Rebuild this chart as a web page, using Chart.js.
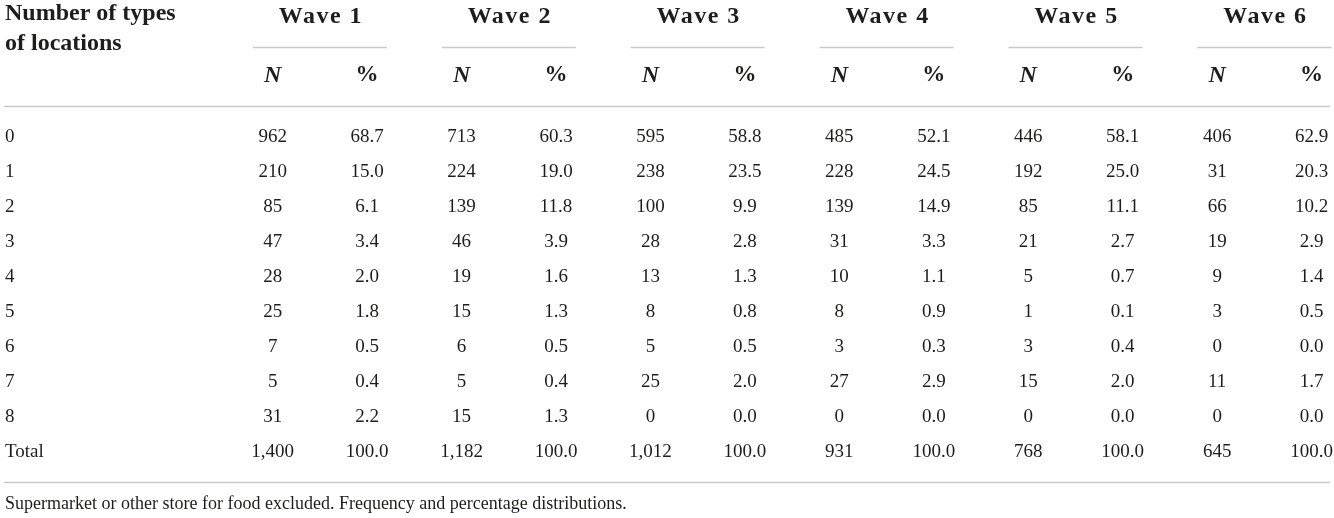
<!DOCTYPE html>
<html>
<head>
<meta charset="utf-8">
<title>Number of types of locations by wave</title>
<script src="https://cdn.jsdelivr.net/npm/chart.js@4.4.1/dist/chart.umd.min.js"></script>
<style>
  html, body { margin: 0; padding: 0; background: #ffffff; }
  #wrap { width: 1334px; height: 518px; }
</style>
</head>
<body>
<div id="wrap"><canvas id="tableChart"></canvas></div>
<script>
// table content
const headerLines = ['Number of types', 'of locations'];
const waveLabels = ['Wave 1', 'Wave 2', 'Wave 3', 'Wave 4', 'Wave 5', 'Wave 6'];
const subLabels = ['N', '%'];
const rowLabels = ['0', '1', '2', '3', '4', '5', '6', '7', '8', 'Total'];

const wave1N   = [962, 210, 85, 47, 28, 25, 7, 5, 31, 1400];
const wave1Pct = [68.7, 15.0, 6.1, 3.4, 2.0, 1.8, 0.5, 0.4, 2.2, 100.0];
const wave2N   = [713, 224, 139, 46, 19, 15, 6, 5, 15, 1182];
const wave2Pct = [60.3, 19.0, 11.8, 3.9, 1.6, 1.3, 0.5, 0.4, 1.3, 100.0];
const wave3N   = [595, 238, 100, 28, 13, 8, 5, 25, 0, 1012];
const wave3Pct = [58.8, 23.5, 9.9, 2.8, 1.3, 0.8, 0.5, 2.0, 0.0, 100.0];
const wave4N   = [485, 228, 139, 31, 10, 8, 3, 27, 0, 931];
const wave4Pct = [52.1, 24.5, 14.9, 3.3, 1.1, 0.9, 0.3, 2.9, 0.0, 100.0];
const wave5N   = [446, 192, 85, 21, 5, 1, 3, 15, 0, 768];
const wave5Pct = [58.1, 25.0, 11.1, 2.7, 0.7, 0.1, 0.4, 2.0, 0.0, 100.0];
const wave6N   = [406, 31, 66, 19, 9, 3, 0, 11, 0, 645];
const wave6Pct = [62.9, 20.3, 10.2, 2.9, 1.4, 0.5, 0.0, 1.7, 0.0, 100.0];

const footnote = 'Supermarket or other store for food excluded. Frequency and percentage distributions.';

const waveN = [wave1N, wave2N, wave3N, wave4N, wave5N, wave6N];
const wavePct = [wave1Pct, wave2Pct, wave3Pct, wave4Pct, wave5Pct, wave6Pct];

// look
const TEXT = '#1d1d1b';
const RULE = '#c9c9c9';
const SERIF = '"Liberation Serif", "DejaVu Serif", serif';
const BODY_FONT = '19px ' + SERIF;
const HEAD_FONT = 'bold 24px ' + SERIF;

// axis ranges: x in column units, y in row units (rows 0..9 = body rows)
const X_MIN = -1.887, X_MAX = 12.237;
const Y_MIN = -3.914, Y_MAX = 10.886;

const fmtN = v => v.toLocaleString('en-US');
const fmtPct = v => v.toFixed(1);

// one dataset per table column
const datasets = [{
  label: 'rows',
  cells: rowLabels,
  align: 'left',
  data: rowLabels.map((_, i) => ({ x: X_MIN, y: i }))
}];
waveN.forEach((vals, w) => {
  datasets.push({
    label: waveLabels[w] + ' N',
    cells: vals.map(fmtN),
    align: 'center',
    data: vals.map((v, i) => ({ x: 2 * w + 1, y: i }))
  });
  datasets.push({
    label: waveLabels[w] + ' %',
    cells: wavePct[w].map(fmtPct),
    align: 'center',
    data: wavePct[w].map((v, i) => ({ x: 2 * w + 2, y: i }))
  });
});

function rule(ctx, x1, x2, y) {
  ctx.beginPath();
  ctx.moveTo(x1, Math.round(y) + 0.5);
  ctx.lineTo(x2, Math.round(y) + 0.5);
  ctx.stroke();
}

const tablePlugin = {
  id: 'tablePlugin',
  beforeDatasetsDraw(chart) {
    const { ctx, chartArea, scales: { x, y } } = chart;
    const left = chartArea.left, right = chartArea.right;
    ctx.save();
    ctx.strokeStyle = RULE;
    ctx.lineWidth = 1.5;
    rule(ctx, left + 4, right - 4, y.getPixelForValue(-0.886));
    rule(ctx, left + 4, right - 4, y.getPixelForValue(9.857));
    waveLabels.forEach((_, w) => {
      rule(ctx, x.getPixelForValue(2 * w + 1.5 - 0.71), x.getPixelForValue(2 * w + 1.5 + 0.71), y.getPixelForValue(-2.557));
    });

    ctx.fillStyle = TEXT;
    ctx.textBaseline = 'middle';
    ctx.font = HEAD_FONT;
    ctx.textAlign = 'left';
    ctx.fillText(headerLines[0], left + 5, y.getPixelForValue(-3.514));
    ctx.fillText(headerLines[1], left + 5, y.getPixelForValue(-2.657));

    ctx.textAlign = 'center';
    ctx.letterSpacing = '1.5px';
    waveLabels.forEach((lab, w) => {
      ctx.fillText(lab, x.getPixelForValue(2 * w + 1.5) + 1, y.getPixelForValue(-3.43));
    });
    ctx.letterSpacing = '0px';

    waveLabels.forEach((_, w) => {
      ctx.font = 'italic bold 24px ' + SERIF;
      ctx.fillText(subLabels[0], x.getPixelForValue(2 * w + 1), y.getPixelForValue(-1.757));
      ctx.font = 'bold 23px ' + SERIF;
      ctx.fillText(subLabels[1], x.getPixelForValue(2 * w + 2), y.getPixelForValue(-1.757));
    });

    ctx.font = '18px ' + SERIF;
    ctx.textAlign = 'left';
    ctx.fillText(footnote, left + 5, y.getPixelForValue(10.486));
    ctx.restore();
  },
  afterDatasetsDraw(chart) {
    const ctx = chart.ctx;
    ctx.save();
    ctx.font = BODY_FONT;
    ctx.fillStyle = TEXT;
    ctx.textBaseline = 'middle';
    chart.data.datasets.forEach((ds, di) => {
      const meta = chart.getDatasetMeta(di);
      ctx.textAlign = ds.align;
      meta.data.forEach((pt, i) => {
        const dx = ds.align === 'left' ? 5 : 0;
        ctx.fillText(ds.cells[i], pt.x + dx, pt.y);
      });
    });
    ctx.restore();
  }
};

new Chart(document.getElementById('tableChart'), {
  type: 'scatter',
  data: { datasets: datasets },
  options: {
    responsive: true,
    maintainAspectRatio: false,
    animation: false,
    events: [],
    layout: { padding: 0 },
    elements: { point: { radius: 0, hoverRadius: 0 } },
    plugins: { legend: { display: false }, tooltip: { enabled: false } },
    scales: {
      x: { type: 'linear', display: false, min: X_MIN, max: X_MAX },
      y: { type: 'linear', display: false, reverse: true, min: Y_MIN, max: Y_MAX }
    }
  },
  plugins: [tablePlugin]
});
</script>
</body>
</html>
